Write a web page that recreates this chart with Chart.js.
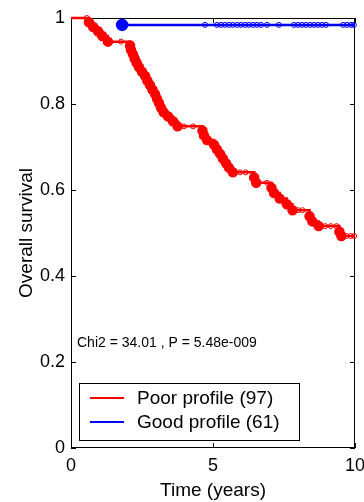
<!DOCTYPE html>
<html>
<head>
<meta charset="utf-8">
<script src="https://cdn.jsdelivr.net/npm/chart.js@4.4.1/dist/chart.umd.min.js"></script>
<style>
  html, body { margin: 0; padding: 0; background: #fff; }
</style>
</head>
<body>
<canvas id="km" width="364" height="502"></canvas>
<script>
// Kaplan-Meier data
const seriesNames = ['Poor profile (97)', 'Good profile (61)'];

// poor profile: event times (years) and survival after each event
const poorTimes = [0.63, 0.78, 0.95, 1.10, 1.30,
  2.08, 2.11, 2.18, 2.24, 2.31, 2.39, 2.50, 2.61, 2.69, 2.78, 2.87, 2.96, 3.03, 3.10, 3.17, 3.26, 3.42, 3.59, 3.75,
  4.63, 4.68, 4.79, 5.04, 5.14, 5.25, 5.35, 5.46, 5.56, 5.70,
  6.45, 6.52, 7.06, 7.15, 7.35, 7.60, 7.80, 8.40, 8.50, 8.72, 9.45, 9.52];
const poorSurv = [0.990, 0.979, 0.969, 0.958, 0.945,
  0.936, 0.926, 0.916, 0.906, 0.896, 0.886, 0.875, 0.865, 0.854, 0.844, 0.833, 0.823, 0.812, 0.802, 0.791, 0.781, 0.771, 0.760, 0.748,
  0.738, 0.727, 0.716, 0.705, 0.694, 0.684, 0.673, 0.662, 0.652, 0.641,
  0.629, 0.617, 0.605, 0.593, 0.580, 0.567, 0.553, 0.539, 0.527, 0.516, 0.503, 0.493];
const poorCensored = [0.56, 1.76, 3.98, 4.30, 5.95, 6.15, 6.90, 8.00, 8.15, 8.95, 9.15, 9.35, 9.70, 9.85, 9.97];

// good profile
const goodTimes = [1.80];
const goodSurv = [0.984];
const goodCensored = [4.72, 5.14, 5.28, 5.42, 5.56, 5.70, 5.85, 5.99, 6.13, 6.27, 6.41, 6.55, 6.69, 6.90, 7.32,
  7.85, 7.99, 8.13, 8.27, 8.42, 8.56, 8.70, 8.84, 8.98, 9.58, 9.72, 9.86, 9.96];

const xTicks = [0, 5, 10];
const yTicks = [0, 0.2, 0.4, 0.6, 0.8, 1];
const statText = 'Chi2 = 34.01 , P = 5.48e-009';

const FONT = "'Liberation Sans', Arial, sans-serif";
const RED = '#ff0000';
const BLUE = '#0000ff';

function levelAt(times, surv, t) {
  let s = 1;
  for (let i = 0; i < times.length; i++) {
    if (times[i] <= t) s = surv[i];
  }
  return s;
}

function stepData(times, surv, start) {
  const pts = [];
  if (start) pts.push({x: 0, y: 1});
  times.forEach((t, i) => pts.push({x: t, y: surv[i]}));
  pts.push({x: 10, y: surv[surv.length - 1]});
  return pts;
}

const poorLine = stepData(poorTimes, poorSurv, true);
const goodLine = stepData(goodTimes, goodSurv, false);
const poorMarks = poorCensored.map(t => ({x: t, y: levelAt(poorTimes, poorSurv, t)}));
const goodMarks = goodCensored.map(t => ({x: t, y: levelAt(goodTimes, goodSurv, t)}));

// box, inward ticks, stats text and legend
const frame = {
  id: 'frame',
  beforeDatasetsDraw(chart) {
    const {ctx, chartArea: a, scales: {x, y}} = chart;
    ctx.save();
    ctx.strokeStyle = '#000';
    ctx.lineWidth = 1;
    ctx.strokeRect(a.left + 0.5, a.top + 0.5, a.width - 1, a.height - 1);
    ctx.beginPath();
    yTicks.forEach(v => {
      const py = Math.round(y.getPixelForValue(v)) + 0.5;
      ctx.moveTo(a.left, py); ctx.lineTo(a.left + 5, py);
      ctx.moveTo(a.right - 5, py); ctx.lineTo(a.right, py);
    });
    xTicks.forEach(v => {
      const px = Math.round(x.getPixelForValue(v)) + 0.5;
      ctx.moveTo(px, a.bottom); ctx.lineTo(px, a.bottom - 5);
      ctx.moveTo(px, a.top); ctx.lineTo(px, a.top + 5);
    });
    ctx.stroke();
    ctx.restore();
  },
  afterDraw(chart) {
    const {ctx, chartArea: a} = chart;
    ctx.save();
    ctx.fillStyle = '#000';
    ctx.font = '14px ' + FONT;
    ctx.textBaseline = 'alphabetic';
    ctx.fillText(statText, a.left + 6, a.bottom - 101);

    const bx = a.left + 8, by = a.bottom - 65, bw = 220, bh = 57;
    ctx.fillStyle = '#fff';
    ctx.fillRect(bx, by, bw, bh);
    ctx.strokeStyle = '#000';
    ctx.lineWidth = 1;
    ctx.strokeRect(bx + 0.5, by + 0.5, bw, bh);
    const colors = [RED, BLUE];
    ctx.font = '19px ' + FONT;
    ctx.textBaseline = 'middle';
    seriesNames.forEach((name, i) => {
      const ly = by + 15 + i * 24;
      ctx.strokeStyle = colors[i];
      ctx.lineWidth = 2;
      ctx.beginPath();
      ctx.moveTo(bx + 11, ly); ctx.lineTo(bx + 45, ly);
      ctx.stroke();
      ctx.fillStyle = '#000';
      ctx.fillText(name, bx + 58, ly + 1);
    });
    ctx.restore();
  }
};

new Chart(document.getElementById('km'), {
  type: 'scatter',
  data: {
    datasets: [{
      label: seriesNames[1],
      data: goodLine,
      showLine: true,
      borderColor: BLUE,
      backgroundColor: BLUE,
      borderWidth: 2.5,
      pointRadius: ctx => ctx.dataIndex === 0 ? 5 : 0,
      clip: false
    }, {
      label: 'good censored',
      data: goodMarks,
      borderColor: BLUE,
      backgroundColor: 'rgba(0,0,0,0)',
      borderWidth: 1,
      pointRadius: 2.5,
      clip: false
    }, {
      label: seriesNames[0],
      data: poorLine,
      showLine: true,
      stepped: true,
      borderColor: RED,
      backgroundColor: RED,
      borderWidth: 2.5,
      pointRadius: ctx => (ctx.dataIndex === 0 || ctx.dataIndex === poorLine.length - 1) ? 0 : 4,
      clip: false
    }, {
      label: 'poor censored',
      data: poorMarks,
      borderColor: RED,
      backgroundColor: 'rgba(0,0,0,0)',
      borderWidth: 1,
      pointRadius: 2.5,
      clip: false
    }]
  },
  options: {
    responsive: false,
    animation: false,
    devicePixelRatio: 1,
    layout: { padding: { top: 18, right: 9, left: 0, bottom: 0 } },
    plugins: {
      legend: { display: false },
      tooltip: { enabled: false }
    },
    scales: {
      x: {
        type: 'linear',
        min: 0,
        max: 10,
        grid: { display: false, drawTicks: false },
        border: { display: false },
        afterBuildTicks: s => { s.ticks = xTicks.map(v => ({value: v})); },
        afterFit: s => { s.height = 54; s.paddingLeft = 0; s.paddingRight = 0; },
        ticks: { color: '#000', font: { family: FONT, size: 18 }, padding: 7, maxRotation: 0 },
        title: { display: true, text: 'Time (years)', color: '#000',
                 font: { family: FONT, size: 19 }, padding: { top: 0, bottom: 0 } }
      },
      y: {
        min: 0,
        max: 1,
        grid: { display: false, drawTicks: false },
        border: { display: false },
        afterBuildTicks: s => { s.ticks = yTicks.map(v => ({value: v})); },
        afterFit: s => { s.width = 71; },
        ticks: { color: '#000', font: { family: FONT, size: 18 }, padding: 6,
                 callback: v => (v === 0 || v === 1) ? String(v) : v.toFixed(1) },
        title: { display: true, text: 'Overall survival', color: '#000',
                 font: { family: FONT, size: 19 }, padding: { top: 15, bottom: 0 } }
      }
    }
  },
  plugins: [frame]
});
</script>
</body>
</html>
